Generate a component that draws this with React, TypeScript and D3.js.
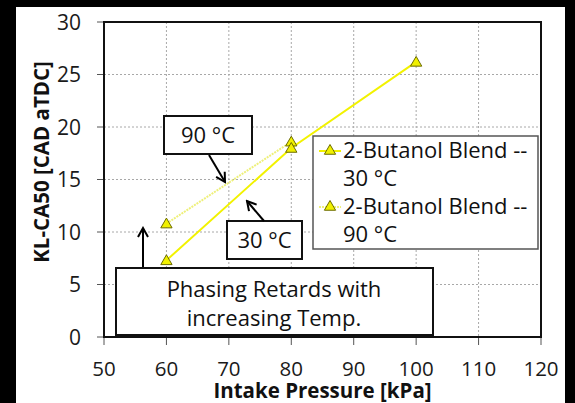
import React from "react";
import * as d3 from "d3";

// Series data
const pressure30 = [60, 80, 100];
const ca50At30 = [7.3, 18.0, 26.2];
const pressure90 = [60, 80];
const ca50At90 = [10.8, 18.6];

const xTicks = [50, 60, 70, 80, 90, 100, 110, 120];
const yTicks = [0, 5, 10, 15, 20, 25, 30];

const seriesNames = ["2-Butanol Blend --", "2-Butanol Blend --"];
const seriesTemps = ["30 °C", "90 °C"];

const W = 575;
const H = 403;
const M = { left: 104, right: 541, top: 22, bottom: 337 };
const FONT = "'Open Sans', 'Noto Sans', sans-serif";

const x = d3.scaleLinear().domain([50, 120]).range([M.left, M.right]);
const y = d3.scaleLinear().domain([0, 30]).range([M.bottom, M.top]);

const line = d3
  .line<[number, number]>()
  .x((d) => x(d[0]))
  .y((d) => y(d[1]));

const tri = d3.symbol().type(d3.symbolTriangle).size(55);

const COL30 = "#f2f200";
const COL90 = "#eef07a";
const MARK_FILL = "#f0f000";
const MARK_STROKE = "#6b6b00";

function Marker({ cx, cy }: { cx: number; cy: number }) {
  return (
    <path
      d={tri() as string}
      transform={`translate(${cx},${cy + 1})`}
      fill={MARK_FILL}
      stroke={MARK_STROKE}
      strokeWidth={1}
    />
  );
}

export default function App() {
  const pts30 = pressure30.map((p, i) => [p, ca50At30[i]] as [number, number]);
  const pts90 = pressure90.map((p, i) => [p, ca50At90[i]] as [number, number]);

  return (
    <svg
      width={W}
      height={H}
      style={{ position: "absolute", left: 0, top: 0 }}
      fontFamily={FONT}
    >
      <defs>
        <marker
          id="arrowHead"
          viewBox="0 0 12 12"
          refX="10"
          refY="6"
          markerWidth="12"
          markerHeight="12"
          markerUnits="userSpaceOnUse"
          orient="auto"
        >
          <path d="M1,1 L10,6 L1,11" fill="none" stroke="#000" strokeWidth={2} />
        </marker>
      </defs>
      <rect x={0} y={0} width={W} height={H} fill="#000" />
      <rect x={16} y={7} width={549} height={396} fill="#fff" />

      {/* gridlines */}
      {xTicks.slice(1, -1).map((t) => (
        <line
          key={"gx" + t}
          x1={x(t)}
          x2={x(t)}
          y1={M.top}
          y2={M.bottom}
          stroke="#a8a8a8"
          strokeWidth={1}
          strokeDasharray="2,2"
        />
      ))}
      {yTicks.slice(1, -1).map((t) => (
        <line
          key={"gy" + t}
          x1={M.left}
          x2={M.right}
          y1={y(t)}
          y2={y(t)}
          stroke="#a8a8a8"
          strokeWidth={1}
          strokeDasharray="2,2"
        />
      ))}

      {/* tick marks */}
      {yTicks.map((t) => (
        <line key={"ty" + t} x1={M.left - 7} x2={M.left} y1={y(t)} y2={y(t)} stroke="#555" strokeWidth={1} />
      ))}
      {xTicks.map((t) => (
        <line key={"tx" + t} x1={x(t)} x2={x(t)} y1={M.bottom} y2={M.bottom + 8} stroke="#555" strokeWidth={1} />
      ))}

      {/* plot frame */}
      <rect
        x={M.left}
        y={M.top}
        width={M.right - M.left}
        height={M.bottom - M.top}
        fill="none"
        stroke="#111"
        strokeWidth={2}
      />

      {/* tick labels */}
      {yTicks.map((t) => (
        <text
          key={"ly" + t}
          x={81}
          y={y(t)}
          dy="0.36em"
          textAnchor="end"
          fontSize={21}
          fill="#1a1a1a"
        >
          {t}
        </text>
      ))}
      {xTicks.map((t) => (
        <text key={"lx" + t} x={x(t)} y={376} textAnchor="middle" fontSize={20.5} fill="#1a1a1a">
          {t}
        </text>
      ))}

      {/* axis titles */}
      <text
        x={(M.left + M.right) / 2}
        y={398}
        textAnchor="middle"
        fontSize={20.5}
        fontWeight="bold"
        fill="#111"
      >
        Intake Pressure [kPa]
      </text>
      <text
        transform={`translate(49,162) rotate(-90)`}
        textAnchor="middle"
        fontSize={20.5}
        fontWeight="bold"
        fill="#111"
      >
        KL-CA50 [CAD aTDC]
      </text>

      {/* series lines */}
      <path d={line(pts90) as string} fill="none" stroke={COL90} strokeWidth={2} strokeDasharray="2,1" />
      <path d={line(pts30) as string} fill="none" stroke={COL30} strokeWidth={2} />
      {pts90.map((d, i) => (
        <Marker key={"m90" + i} cx={x(d[0])} cy={y(d[1])} />
      ))}
      {pts30.map((d, i) => (
        <Marker key={"m30" + i} cx={x(d[0])} cy={y(d[1])} />
      ))}

      {/* annotation: 90 °C */}
      <rect x={164} y={116} width={88} height={38} fill="#fff" stroke="#111" strokeWidth={2} />
      <text x={208} y={143} textAnchor="middle" fontSize={22} fill="#111">
        90 °C
      </text>
      <line x1={209} y1={155} x2={225} y2={182} stroke="#000" strokeWidth={2} markerEnd="url(#arrowHead)" />

      {/* annotation: 30 °C */}
      <rect x={227} y={221} width={75} height={38} fill="#fff" stroke="#111" strokeWidth={2} />
      <text x={264.5} y={248} textAnchor="middle" fontSize={22} fill="#111">
        30 °C
      </text>
      <line x1={264} y1={221} x2={247} y2={201} stroke="#000" strokeWidth={2} markerEnd="url(#arrowHead)" />

      {/* annotation: phasing note */}
      <line x1={143} y1={267} x2={143} y2={228} stroke="#000" strokeWidth={2} markerEnd="url(#arrowHead)" />
      <rect x={116} y={268} width={317} height={67} fill="#fff" stroke="#111" strokeWidth={2} />
      <text x={274} y={297} textAnchor="middle" fontSize={22} fill="#111">
        Phasing Retards with
      </text>
      <text x={274} y={326} textAnchor="middle" fontSize={22} fill="#111">
        increasing Temp.
      </text>

      {/* legend */}
      <rect x={313} y={136} width={225} height={113} fill="#fff" stroke="#555" strokeWidth={1.5} />
      {[0, 1].map((i) => {
        const ly = 151 + i * 56;
        return (
          <g key={"lg" + i}>
            <line
              x1={319}
              x2={341}
              y1={ly}
              y2={ly}
              stroke={i === 0 ? COL30 : COL90}
              strokeWidth={2}
              strokeDasharray={i === 0 ? undefined : "2,1"}
            />
            <Marker cx={330} cy={ly - 1} />
            <text x={343} y={ly + 7} fontSize={22} fill="#111">
              {seriesNames[i]}
            </text>
            <text x={343} y={ly + 35} fontSize={22} fill="#111">
              {seriesTemps[i]}
            </text>
          </g>
        );
      })}
    </svg>
  );
}
